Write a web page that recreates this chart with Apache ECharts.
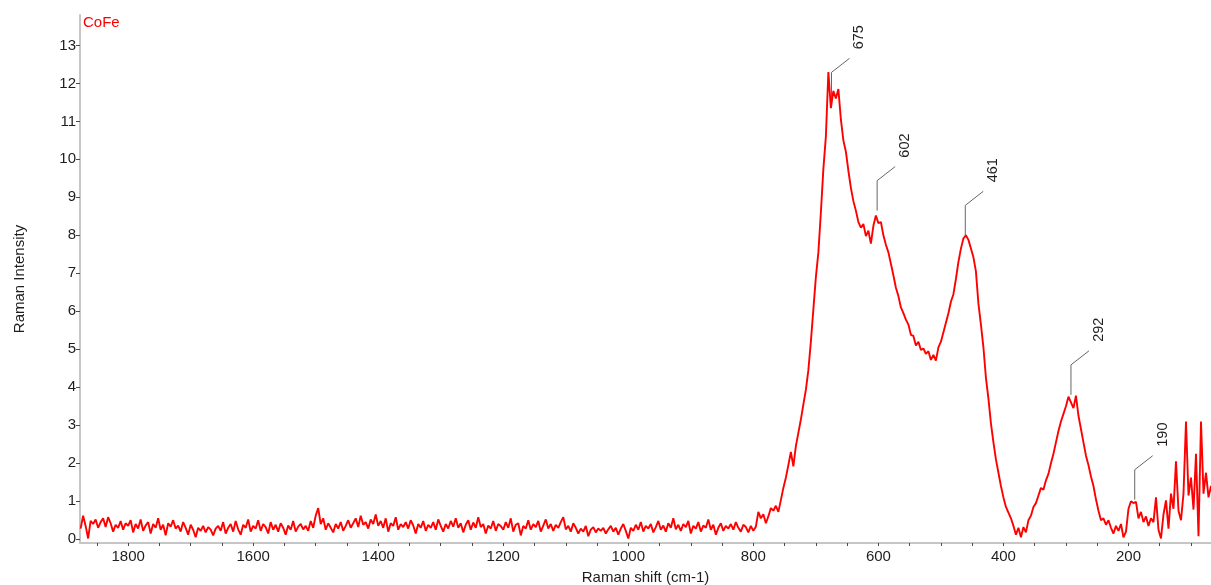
<!DOCTYPE html>
<html>
<head>
<meta charset="utf-8">
<title>CoFe Raman spectrum</title>
<script src="https://cdn.jsdelivr.net/npm/echarts@6/dist/echarts.min.js"></script>
<style>
  html, body { margin: 0; padding: 0; background: #ffffff; }
  #chart { width: 1211px; height: 585px; }
</style>
</head>
<body>
<div id="chart"></div>
<script>
// Raman spectrum of the CoFe sample, sampled every 4 cm-1 from 1876 cm-1 down to 64 cm-1
const shiftStart = 1876;
const shiftStep = 4;
const intensity = [
  0.28, 0.62, 0.35, 0.02, 0.48, 0.40, 0.52, 0.30, 0.45, 0.55,
  0.32, 0.58, 0.42, 0.20, 0.38, 0.30, 0.48, 0.25, 0.42, 0.35,
  0.50, 0.18, 0.40, 0.28, 0.52, 0.22, 0.36, 0.45, 0.15, 0.40,
  0.30, 0.55, 0.25, 0.38, 0.10, 0.42, 0.33, 0.50, 0.28, 0.36,
  0.20, 0.45, 0.30, 0.12, 0.38, 0.25, 0.05, 0.30, 0.22, 0.35,
  0.18, 0.32, 0.25, 0.10, 0.28, 0.35, 0.22, 0.45, 0.15, 0.30,
  0.40, 0.20, 0.48, 0.26, 0.12, 0.38, 0.30, 0.52, 0.20, 0.35,
  0.28, 0.50, 0.22, 0.40, 0.32, 0.15, 0.45, 0.25, 0.38, 0.20,
  0.42, 0.30, 0.12, 0.36, 0.25, 0.48, 0.20, 0.33, 0.40, 0.26,
  0.35, 0.22, 0.48, 0.30, 0.62, 0.82, 0.40, 0.55, 0.25, 0.42,
  0.30, 0.18, 0.40, 0.28, 0.45, 0.22, 0.35, 0.50, 0.30, 0.42,
  0.55, 0.32, 0.62, 0.38, 0.45, 0.28, 0.52, 0.40, 0.65, 0.35,
  0.48, 0.30, 0.55, 0.20, 0.42, 0.35, 0.58, 0.25, 0.40, 0.32,
  0.45, 0.28, 0.50, 0.36, 0.15, 0.40, 0.30, 0.48, 0.22, 0.38,
  0.30, 0.45, 0.25, 0.52, 0.35, 0.20, 0.40, 0.28, 0.48, 0.33,
  0.55, 0.30, 0.42, 0.18, 0.38, 0.50, 0.25, 0.44, 0.30, 0.58,
  0.32, 0.40, 0.15, 0.36, 0.28, 0.48, 0.22, 0.40, 0.35, 0.25,
  0.45, 0.30, 0.55, 0.20, 0.38, 0.42, 0.10, 0.35, 0.28, 0.50,
  0.25, 0.40, 0.32, 0.48, 0.20, 0.36, 0.52, 0.28, 0.40, 0.22,
  0.38, 0.30, 0.45, 0.58, 0.26, 0.35, 0.20, 0.42, 0.30, 0.15,
  0.28, 0.20, 0.35, 0.08, 0.25, 0.32, 0.18, 0.28, 0.22, 0.30,
  0.15, 0.26, 0.35, 0.20, 0.30, 0.12, 0.28, 0.40, 0.22, 0.02,
  0.30, 0.22, 0.38, 0.25, 0.45, 0.20, 0.35, 0.28, 0.40, 0.18,
  0.32, 0.48, 0.25, 0.36, 0.20, 0.42, 0.30, 0.55, 0.26, 0.38,
  0.22, 0.40, 0.32, 0.48, 0.15, 0.35, 0.28, 0.45, 0.20, 0.36,
  0.30, 0.52, 0.25, 0.38, 0.12, 0.30, 0.42, 0.22, 0.35, 0.28,
  0.40, 0.25, 0.45, 0.30, 0.20, 0.38, 0.32, 0.18, 0.35, 0.22,
  0.33, 0.72, 0.55, 0.66, 0.42, 0.60, 0.82, 0.75, 0.88, 0.72,
  1.03, 1.35, 1.62, 1.95, 2.30, 1.92, 2.45, 2.80, 3.15, 3.55,
  3.93, 4.45, 5.20, 6.05, 6.90, 7.55, 8.60, 9.75, 10.60, 12.30,
  11.35, 11.80, 11.60, 11.85, 11.05, 10.50, 10.20, 9.70, 9.25, 8.90,
  8.65, 8.35, 8.20, 8.30, 7.98, 8.12, 7.78, 8.25, 8.52, 8.32,
  8.35, 8.00, 7.75, 7.55, 7.25, 6.95, 6.62, 6.40, 6.10, 5.95,
  5.78, 5.65, 5.38, 5.35, 5.10, 5.20, 4.98, 5.02, 4.88, 4.95,
  4.72, 4.85, 4.70, 5.05, 5.20, 5.45, 5.70, 5.95, 6.25, 6.45,
  6.85, 7.30, 7.65, 7.92, 8.00, 7.88, 7.65, 7.42, 7.05, 6.20,
  5.65, 5.05, 4.25, 3.70, 3.05, 2.55, 2.10, 1.75, 1.40, 1.10,
  0.85, 0.70, 0.55, 0.35, 0.12, 0.30, 0.05, 0.32, 0.18, 0.50,
  0.62, 0.85, 0.95, 1.15, 1.35, 1.30, 1.55, 1.72, 2.00, 2.25,
  2.55, 2.85, 3.10, 3.30, 3.50, 3.75, 3.60, 3.45, 3.78, 3.25,
  2.90, 2.55, 2.20, 1.95, 1.65, 1.40, 1.05, 0.75, 0.50, 0.55,
  0.38, 0.50, 0.30, 0.15, 0.35, 0.22, 0.40, 0.05, 0.20, 0.80,
  1.00, 0.95, 0.98, 0.55, 0.72, 0.45, 0.60, 0.35, 0.55, 0.45,
  1.10, 0.25, 0.02, 0.65, 1.02, 0.28, 1.20, 0.80, 2.05, 0.75,
  0.50, 1.20, 3.10, 1.15, 1.62, 0.78, 2.25, 0.08, 3.10, 1.20,
  1.75, 1.10, 1.40, 1.25
];

// Assigned bands: position (cm-1) and intensity at the band maximum
const peakShifts = [675, 602, 461, 292, 190];
const peakHeights = [11.5, 8.65, 8.0, 3.8, 1.04];

// Axis ticks and labels
const xTickValues = [100, 150, 200, 250, 300, 350, 400, 450, 500, 550, 600, 650, 700, 750, 800, 850,
  900, 950, 1000, 1050, 1100, 1150, 1200, 1250, 1300, 1350, 1400, 1450, 1500, 1550, 1600, 1650,
  1700, 1750, 1800, 1850];
const xLabelValues = [200, 400, 600, 800, 1000, 1200, 1400, 1600, 1800];
const yTickValues = [0, 1, 2, 3, 4, 5, 6, 7, 8, 9, 10, 11, 12, 13];

const FONT = '"Liberation Sans", Arial, sans-serif';
const TEXT_COLOR = '#1e1e1e';
const AXIS_COLOR = '#c6c6c6';

const spectrum = intensity.map((v, i) => [shiftStart - i * shiftStep, v]);
const peaks = peakShifts.map((s, i) => [s, peakHeights[i]]);

const chart = echarts.init(document.getElementById('chart'), null, { renderer: 'canvas' });

chart.setOption({
  animation: false,
  backgroundColor: '#ffffff',
  title: {
    text: 'CoFe',
    left: 83,
    top: 15,
    padding: 0,
    textStyle: { color: '#ff0000', fontSize: 15, fontWeight: 'normal', fontFamily: FONT }
  },
  grid: { left: 80, right: 0, top: 15, bottom: 42, containLabel: false, outerBoundsMode: 'none' },
  xAxis: {
    type: 'value',
    inverse: true,
    min: 68,
    max: 1877,
    name: 'Raman shift (cm-1)',
    nameLocation: 'middle',
    nameGap: 27,
    nameTextStyle: { color: TEXT_COLOR, fontSize: 15, fontFamily: FONT },
    axisLine: { show: true, onZero: false, lineStyle: { color: AXIS_COLOR, width: 2 } },
    axisTick: { show: true, customValues: xTickValues, length: 3, lineStyle: { color: '#4a4a4a', width: 1 } },
    axisLabel: {
      customValues: xLabelValues,
      formatter: (v) => String(v),
      color: TEXT_COLOR, fontSize: 15, fontFamily: FONT, margin: 6
    },
    splitLine: { show: false }
  },
  yAxis: {
    type: 'value',
    min: -0.1,
    max: 13.8,
    name: 'Raman Intensity',
    nameLocation: 'middle',
    nameGap: 53,
    nameTextStyle: { color: TEXT_COLOR, fontSize: 15, fontFamily: FONT },
    axisLine: { show: true, onZero: false, lineStyle: { color: AXIS_COLOR, width: 2 } },
    axisTick: { show: true, customValues: yTickValues, length: 4, lineStyle: { color: '#4a4a4a', width: 1 } },
    axisLabel: { customValues: yTickValues, color: TEXT_COLOR, fontSize: 15, fontFamily: FONT, margin: 4 },
    splitLine: { show: false }
  },
  series: [
    {
      name: 'CoFe',
      type: 'line',
      data: spectrum,
      showSymbol: false,
      symbol: 'none',
      clip: true,
      z: 3,
      lineStyle: { color: '#ff0000', width: 1.9 }
    },
    {
      // leader lines and rotated band labels
      name: 'bands',
      type: 'custom',
      coordinateSystem: 'cartesian2d',
      clip: false,
      z: 2,
      silent: true,
      encode: { x: 0, y: 1 },
      data: peaks,
      renderItem: function (params, api) {
        const p = api.coord([api.value(0), api.value(1)]);
        const top = [p[0], p[1] - 30];
        const end = [top[0] + 18, top[1] - 14];
        return {
          type: 'group',
          children: [
            {
              type: 'polyline',
              shape: { points: [p, top, end] },
              style: { stroke: '#666666', fill: null, lineWidth: 1 }
            },
            {
              type: 'text',
              x: end[0] + 10,
              y: end[1] - 9,
              rotation: Math.PI / 2,
              style: {
                text: String(api.value(0)),
                fill: TEXT_COLOR,
                font: '14.5px ' + FONT,
                align: 'left',
                verticalAlign: 'middle',
                textAlign: 'left',
                textVerticalAlign: 'middle'
              }
            }
          ]
        };
      }
    }
  ]
});
</script>
</body>
</html>
